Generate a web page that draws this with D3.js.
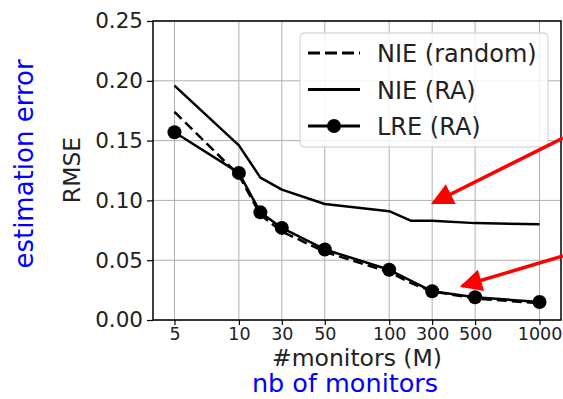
<!DOCTYPE html>
<html lang="en">
<head>
<meta charset="UTF-8" />
<title>RMSE vs monitors</title>
<script src="https://d3js.org/d3.v7.min.js"></script>
<style>
  body { margin: 0; background: #fff; }
  .grid line { stroke: #b0b0b0; stroke-width: 1; }
  .series { fill: none; stroke: #000; stroke-width: 2.5; stroke-linejoin: round; }
  text { font-family: "DejaVu Sans", sans-serif; }
</style>
</head>
<body>
<script>
// tick labels on the x axis and their slot on the axis
var tickValues = [5, 10, 30, 50, 100, 300, 500, 1000];
var tickSlots = [0, 3, 5, 7, 10, 12, 14, 17];
var yTicks = [0, 0.05, 0.10, 0.15, 0.20, 0.25];

// series
var monitors = [5, 10, 20, 30, 50, 100, 200, 300, 500, 1000];
var nieRandom = [0.174, 0.121, 0.088, 0.074, 0.057, 0.040, 0.031, 0.024, 0.018, 0.014];
var nieRA = [0.196, 0.146, 0.119, 0.109, 0.097, 0.091, 0.083, 0.083, 0.081, 0.080];
var lreMonitors = [5, 10, 20, 30, 50, 100, 300, 500, 1000];
var lreRA = [0.157, 0.123, 0.090, 0.077, 0.059, 0.042, 0.024, 0.019, 0.015];

var width = 563, height = 399;
var pLeft = 153, pRight = 561, pTop = 21, pBottom = 320;

var svg = d3.select("body").append("svg").attr("width", width).attr("height", height);

var slot = d3.scaleLinear().domain([-1, 18]).range([pLeft, pRight]);
var x = d3.scaleLinear().domain(tickValues).range(tickSlots.map(slot));
var y = d3.scaleLinear().domain([0, 0.25]).range([pBottom, pTop]);

// grid
var grid = svg.append("g").attr("class", "grid");
grid.selectAll(".vx").data(tickValues).enter().append("line")
  .attr("x1", d => x(d)).attr("x2", d => x(d)).attr("y1", pTop).attr("y2", pBottom);
grid.selectAll(".hy").data(yTicks).enter().append("line")
  .attr("x1", pLeft).attr("x2", pRight).attr("y1", d => y(d)).attr("y2", d => y(d));

// axes
var xAxis = svg.append("g").attr("transform", "translate(0," + pBottom + ")")
  .call(d3.axisBottom(x).tickValues(tickValues).tickFormat(d3.format("d")).tickSize(5).tickPadding(3));
var yAxis = svg.append("g").attr("transform", "translate(" + pLeft + ",0)")
  .call(d3.axisLeft(y).tickValues(yTicks).tickFormat(d3.format(".2f")).tickSize(6).tickPadding(4));
[xAxis, yAxis].forEach(function(a) {
  a.select(".domain").remove();
  a.selectAll("text").attr("font-family", "DejaVu Sans").attr("fill", "#222");
  a.selectAll("line").attr("stroke", "#000").attr("stroke-width", 1.2);
});
xAxis.selectAll("text").attr("font-size", 17.5);
yAxis.selectAll("text").attr("font-size", 21.5);

svg.append("rect").attr("x", pLeft).attr("y", pTop).attr("width", pRight - pLeft).attr("height", pBottom - pTop)
  .attr("fill", "none").attr("stroke", "#000").attr("stroke-width", 1.5);

// lines
var line = d3.line().x(d => x(d[0])).y(d => y(d[1]));
svg.append("path").datum(d3.zip(monitors, nieRandom)).attr("class", "series")
  .attr("stroke-width", 2.8).attr("stroke-dasharray", "10,5").attr("d", line);
svg.append("path").datum(d3.zip(monitors, nieRA)).attr("class", "series").attr("d", line);
svg.append("path").datum(d3.zip(lreMonitors, lreRA)).attr("class", "series").attr("d", line);
svg.selectAll(".dot").data(d3.zip(lreMonitors, lreRA)).enter().append("circle")
  .attr("cx", d => x(d[0])).attr("cy", d => y(d[1])).attr("r", 7).attr("fill", "#000");

// legend
var lg = svg.append("g").attr("transform", "translate(300,33)");
lg.append("rect").attr("width", 248).attr("height", 114).attr("rx", 4)
  .attr("fill", "#fff").attr("fill-opacity", 0.85).attr("stroke", "#ccc");
var items = [["NIE (random)", "12,5", false], ["NIE (RA)", null, false], ["LRE (RA)", null, true]];
items.forEach(function(it, i) {
  var yy = 20 + i * 36.5;
  lg.append("line").attr("x1", 8).attr("x2", 60).attr("y1", yy).attr("y2", yy)
    .attr("stroke", "#000").attr("stroke-width", 2.8).attr("stroke-dasharray", it[1]);
  if (it[2]) lg.append("circle").attr("cx", 34).attr("cy", yy).attr("r", 7);
  lg.append("text").attr("x", 77).attr("y", yy + 9).attr("font-size", 24).attr("fill", "#222").text(it[0]);
});

// axis titles
svg.append("text").attr("x", (pLeft + pRight) / 2).attr("y", 366).attr("text-anchor", "middle")
  .attr("font-size", 23.5).attr("fill", "#222").text("#monitors (M)");
svg.append("text").attr("transform", "translate(80,170) rotate(-90)").attr("text-anchor", "middle")
  .attr("font-size", 23.5).attr("fill", "#222").text("RMSE");

svg.append("text").attr("x", 345).attr("y", 392).attr("text-anchor", "middle")
  .attr("font-size", 25.5).attr("font-family", "Open Sans").attr("fill", "#0000ff").text("nb of monitors");
svg.append("text").attr("transform", "translate(33,164) rotate(-90)").attr("text-anchor", "middle")
  .attr("font-size", 26).attr("font-family", "Open Sans").attr("fill", "#0000ff").text("estimation error");

// red arrows
svg.append("defs").append("marker").attr("id", "arr").attr("viewBox", "0 0 10 10")
  .attr("refX", 9).attr("refY", 5).attr("markerUnits", "userSpaceOnUse").attr("orient", "auto")
  .attr("markerWidth", 28).attr("markerHeight", 22)
  .append("path").attr("d", "M0,0L10,5L0,10z").attr("fill", "#f00");
[[563, 138, 433, 203], [563, 256, 462, 286]].forEach(function(a) {
  svg.append("line").attr("x1", a[0]).attr("y1", a[1]).attr("x2", a[2]).attr("y2", a[3])
    .attr("stroke", "#f00").attr("stroke-width", 3.5).attr("marker-end", "url(#arr)");
});
</script>
</body>
</html>
